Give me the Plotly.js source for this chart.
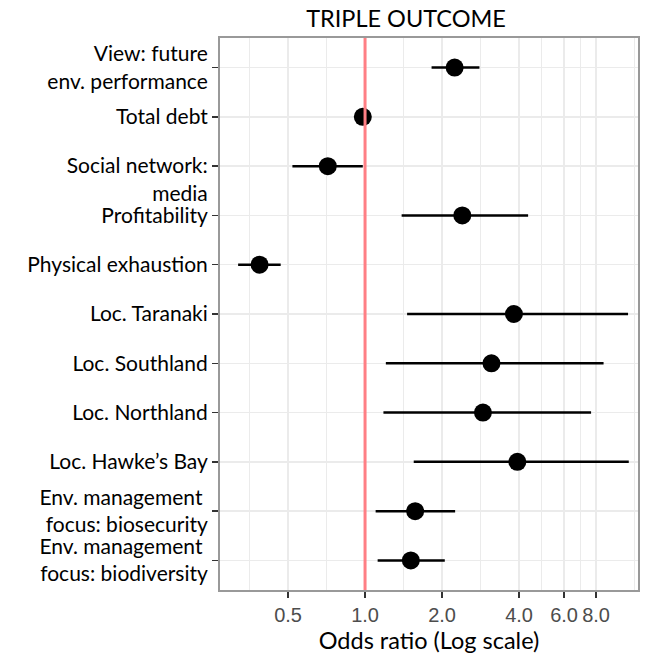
<!DOCTYPE html>
<html>
<head>
<meta charset="utf-8">
<script src="https://cdn.plot.ly/plotly-3.0.1.min.js"></script>
<style>html,body{margin:0;padding:0;background:#fff;}</style>
</head>
<body>
<div id="chart" style="width:649px;height:661px;"></div>
<script>
const categories = [
  "View: future<br>env. performance",
  "Total debt",
  " <br>Social network:<br>media",
  "Profitability",
  "Physical exhaustion",
  "Loc. Taranaki",
  "Loc. Southland",
  "Loc. Northland",
  "Loc. Hawke\u2019s Bay",
  "Env. management <br>focus: biosecurity",
  "Env. management <br>focus: biodiversity"
];
const oddsRatio = [2.24, 0.98, 0.715, 2.40, 0.387, 3.82, 3.12, 2.89, 3.94, 1.57, 1.51];
const ciLow     = [1.82, 0.95, 0.52, 1.39, 0.319, 1.46, 1.206, 1.18, 1.55, 1.10, 1.12];
const ciHigh    = [2.80, 1.02, 0.98, 4.34, 0.468, 10.67, 8.56, 7.65, 10.74, 2.25, 2.05];
const refOdds = 1;
const xTickVals = [0.5, 1, 2, 4, 6, 8];
const xTickText = ["0.5", "1.0", "2.0", "4.0", "6.0", "8.0"];
const xMinorVals = [0.3536, 0.7071, 1.4142, 2.8284, 4.899, 6.9282, 11.3137];

const refLine = {
  type: "scatter", mode: "lines",
  x: [refOdds, refOdds], y: [0, 1],
  yaxis: "y2",
  line: {color: "#ff7f85", width: 3},
  hoverinfo: "skip"
};

const trace = {
  type: "scatter",
  mode: "markers",
  x: oddsRatio,
  y: categories,
  marker: {color: "#000", size: 18},
  error_x: {
    type: "data", symmetric: false,
    array: oddsRatio.map((v, i) => ciHigh[i] - v),
    arrayminus: oddsRatio.map((v, i) => v - ciLow[i]),
    width: 0, thickness: 2.5, color: "#000"
  },
  hoverinfo: "x+y"
};

const layout = {
  width: 649, height: 661,
  margin: {l: 220, r: 11, t: 38, b: 71},
  paper_bgcolor: "#fff", plot_bgcolor: "#fff",
  showlegend: false,
  font: {family: "Lato, 'Open Sans', sans-serif", color: "#000"},
  title: {
    text: "TRIPLE OUTCOME",
    font: {family: "Lato, 'Open Sans', sans-serif", size: 23.5, color: "#000"},
    xref: "container", x: 406 / 649, xanchor: "center",
    yref: "container", y: 1 - 19 / 661, yanchor: "middle"
  },
  xaxis: {
    type: "log",
    range: [Math.log10(0.271), Math.log10(11.67)],
    tickmode: "array", tickvals: xTickVals, ticktext: xTickText,
    tickfont: {family: "Liberation Sans, Arial, sans-serif", size: 20, color: "#4d4d4d"},
    ticks: "outside", ticklen: 6, tickwidth: 1.5, tickcolor: "#333",
    showgrid: true, gridcolor: "#ebebeb", gridwidth: 1.5,
    minor: {tickmode: "array", tickvals: xMinorVals, showgrid: true, gridcolor: "#ebebeb", gridwidth: 1, ticks: ""},
    zeroline: false,
    showline: true, linecolor: "#999", linewidth: 2, mirror: true,
    title: {text: "Odds ratio (Log scale)", font: {family: "Lato, 'Open Sans', sans-serif", size: 23.5, color: "#000"}, standoff: 8}
  },
  yaxis: {
    type: "category",
    categoryorder: "array", categoryarray: categories,
    range: [10.6, -0.6],
    tickfont: {family: "Lato, 'Open Sans', sans-serif", size: 21, color: "#000"},
    ticks: "outside", ticklen: 6, tickwidth: 1.5, tickcolor: "#333",
    showgrid: true, gridcolor: "#ebebeb", gridwidth: 1.5,
    zeroline: false,
    showline: true, linecolor: "#999", linewidth: 2, mirror: true
  },
  yaxis2: {
    overlaying: "y", range: [0, 1], visible: false, showgrid: false, zeroline: false
  }
};

Plotly.newPlot("chart", [refLine, trace], layout, {displayModeBar: false, staticPlot: true});
</script>
</body>
</html>
